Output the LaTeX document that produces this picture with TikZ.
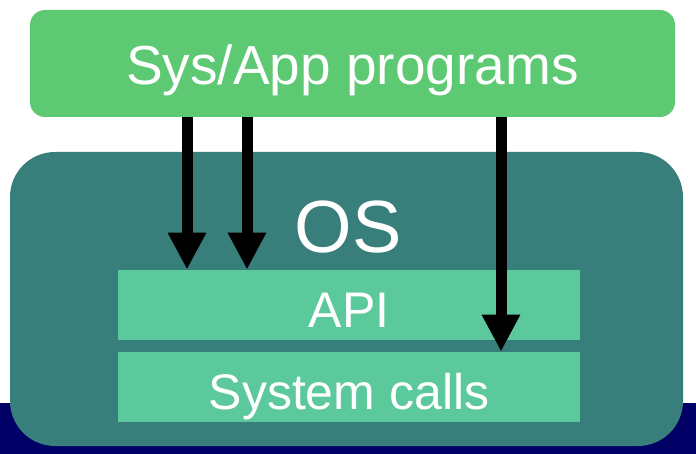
\documentclass[tikz,border=0pt]{standalone}
\usepackage{fontspec}
\setmainfont{Liberation Sans}
\usetikzlibrary{positioning,
        arrows.meta}
\definecolor{progGreen}{RGB}{93,201,115}
\definecolor{osTeal}{RGB}{56,126,122}
\definecolor{layerGreen}{RGB}{91,201,156}
\definecolor{bandNavy}{RGB}{0,0,102}

\begin{document}
\begin{tikzpicture}[x=0.5pt,y=-0.5pt,
        layer/.style={rectangle,fill=layerGreen,text=white,minimum width=231pt,minimum height=35pt,inner sep=0pt,text height=22.5pt,text depth=0pt,font=\fontsize{25}{28}\selectfont},
        call/.style={-{Triangle[width=18pt,length=18.5pt]},line width=5.5pt,black}]
            \useasboundingbox (0,0) rectangle (696,454);
            \fill [bandNavy] (0,403) rectangle (696,454);
            \node [rectangle,rounded corners=22.5pt,fill=osTeal,minimum width=336.5pt,minimum height=147pt] (OS) at (346.5,299) {};
            \node [rectangle,rounded corners=7.5pt,fill=progGreen,text=white,minimum width=322.5pt,minimum height=53.5pt,inner sep=0pt,text height=21.5pt,text depth=0pt,font=\fontsize{27.5}{30}\selectfont] (prog) at (352.5,63.5) {Sys/App programs};
            \node [text=white,font=\fontsize{37}{40}\selectfont] (OSlabel) at (348,227) {OS};
            \node [layer] (API) at (349,305) {API};
            \node [layer] (sys) at (349,387) {System calls};
            
            \draw [call] (prog.south -| 187,0) -- (API.north -| 187,0);
            \draw [call] (prog.south -| 247,0) -- (API.north -| 247,0);
            \draw [call] (prog.south -| 501,0) -- (sys.north -| 501,0);
        \end{tikzpicture}
\end{document}
